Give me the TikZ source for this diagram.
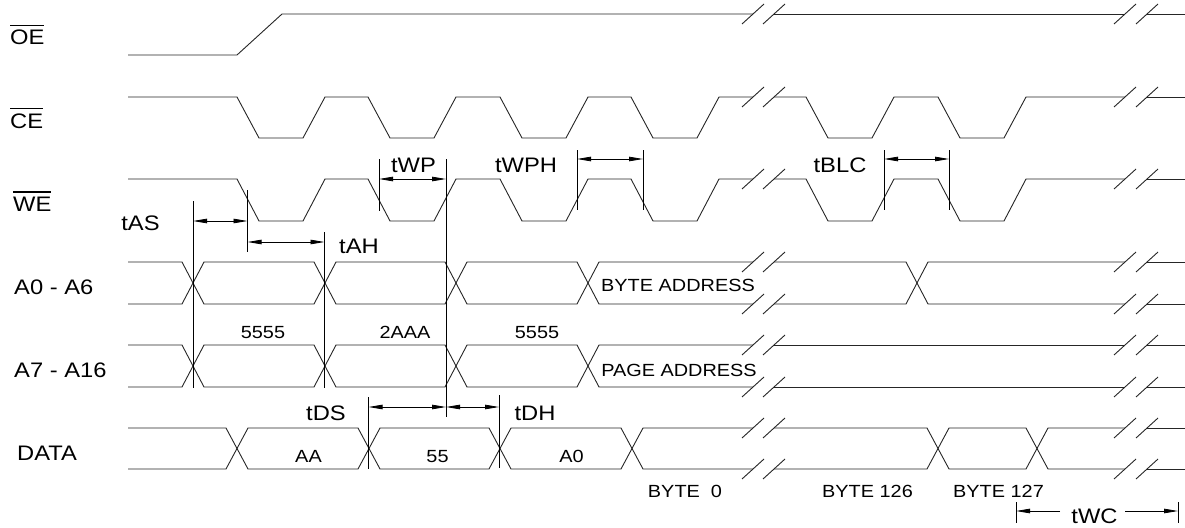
\documentclass[tikz,border=0pt]{standalone}
\usepackage{fontspec}
\setmainfont{Liberation Sans}[FakeStretch=1.13]
\usetikzlibrary{arrows.meta}
\newcommand\biglab{\fontsize{21}{24}\selectfont}
\newcommand\smlab{\fontsize{17.6}{20}\selectfont}
\newcommand\ovl[1]{\vbox{\hrule height 1.2pt\kern 4pt\hbox{#1}}}
% pulse train for CE and WE (#1 high y, #2 low y)
\newcommand\pulses[2]{%
\draw[sig] (128,#1) -- (237,#1) -- (259,#2) -- (303,#2) -- (325,#1) -- (368,#1) -- (390,#2) -- (434,#2) -- (456,#1) -- (500,#1) -- (522,#2) -- (566,#2) -- (588,#1) -- (631,#1) -- (653,#2) -- (697,#2) -- (719,#1) -- (753,#1);
\draw[sig] (774,#1) -- (806,#1) -- (828,#2) -- (872,#2) -- (894,#1) -- (938,#1) -- (960,#2) -- (1004,#2) -- (1026,#1) -- (1125,#1);
\draw[sig] (1147,#1) -- (1185,#1);}
% address bus before the first break (#1 top y, #2 bottom y)
\newcommand\addrbus[2]{%
\draw[sig] (128,#1) -- (182,#1) -- (204,#2) -- (314,#2) -- (336,#1) -- (445,#1) -- (467,#2) -- (577,#2) -- (599,#1) -- (753,#1);
\draw[sig] (128,#2) -- (182,#2) -- (204,#1) -- (314,#1) -- (336,#2) -- (445,#2) -- (467,#1) -- (577,#1) -- (599,#2) -- (753,#2);}
% break marks on a line at y=#1
\newcommand\brk[1]{\foreach \xx in {753,774,1125,1147}{\draw[sig] (\xx-11,#1+10) -- (\xx+11,#1-10);}}
\begin{document}
\begin{tikzpicture}[x=1pt,y=-1pt,
  sig/.style={line width=0.9pt,black!85,line join=miter},
  dimline/.style={line width=0.8pt,black},
  tip/.tip={Triangle[length=14pt,width=4.5pt]},
  dimarr/.style={line width=0.8pt,black,tip-tip},
  siglab/.style={font=\biglab,inner sep=0pt,anchor=base west},
  tlab/.style={font=\biglab,inner sep=0pt,anchor=base},
  vlab/.style={font=\smlab,inner sep=0pt,anchor=base}]
\useasboundingbox (0,0) rectangle (1185,527);

% ---- signal names
\node[siglab] (nOE) at (10,45) {\ovl{OE}};
\node[siglab] (nCE) at (10,128) {\ovl{CE}};
\node[siglab] (nWE) at (13,211) {\ovl{WE}};
\node[siglab] (nA0) at (14,294) {A0 - A6};
\node[siglab] (nA7) at (14,377) {A7 - A16};
\node[siglab] (nDATA) at (17,460) {DATA};

% ---- OE
\draw[sig] (128,55) -- (237,55) -- (282,14) -- (753,14);
\draw[sig] (774,14) -- (1125,14);
\draw[sig] (1147,14) -- (1185,14);
\brk{14}

% ---- CE and WE
\pulses{97}{138}
\brk{97}
\pulses{179}{221}
\brk{179}

% ---- A0 - A6
\addrbus{262}{304}
\draw[sig] (774,262) -- (906,262) -- (928,304) -- (1125,304);
\draw[sig] (774,304) -- (906,304) -- (928,262) -- (1125,262);
\draw[sig] (1147,262) -- (1185,262);
\draw[sig] (1147,304) -- (1185,304);
\brk{262}\brk{304}

% ---- A7 - A16
\addrbus{345}{387}
\draw[sig] (774,345) -- (1125,345);
\draw[sig] (774,387) -- (1125,387);
\draw[sig] (1147,345) -- (1185,345);
\draw[sig] (1147,387) -- (1185,387);
\brk{345}\brk{387}

% ---- DATA
\draw[sig] (128,428) -- (226,428) -- (248,469) -- (358,469) -- (380,428) -- (489,428) -- (511,469) -- (621,469) -- (643,428) -- (753,428);
\draw[sig] (128,469) -- (226,469) -- (248,428) -- (358,428) -- (380,469) -- (489,469) -- (511,428) -- (621,428) -- (643,469) -- (753,469);
\draw[sig] (774,428) -- (927,428) -- (949,469) -- (1026,469) -- (1048,428) -- (1125,428);
\draw[sig] (774,469) -- (927,469) -- (949,428) -- (1026,428) -- (1048,469) -- (1125,469);
\draw[sig] (1147,428) -- (1185,428);
\draw[sig] (1147,469) -- (1185,469);
\brk{428}\brk{469}

% ---- bus values
\node[vlab] (v1) at (263,338) {5555};
\node[vlab] (v2) at (405,338) {2AAA};
\node[vlab] (v3) at (537,338) {5555};
\node[vlab] (vba) at (678,291) {BYTE ADDRESS};
\node[vlab] (vpa) at (679,376) {PAGE ADDRESS};
\node[vlab] (d1) at (308.5,462) {AA};
\node[vlab] (d2) at (437.5,462) {55};
\node[vlab] (d3) at (571.5,462) {A0};
\node[vlab] (b0) at (685,497) {BYTE\ \ 0};
\node[vlab] (b126) at (867.5,497) {BYTE 126};
\node[vlab] (b127) at (998.5,497) {BYTE 127};

% ---- reference lines
\draw[dimline] (193,201) -- (193,388);
\draw[dimline] (247.5,190) -- (247.5,252);
\draw[dimline] (324.5,232) -- (324.5,388);
\draw[dimline] (379,159) -- (379,211);
\draw[dimline] (446,159) -- (446,417);
\draw[dimline] (577,150) -- (577,210);
\draw[dimline] (643,150) -- (643,210);
\draw[dimline] (884,150) -- (884,210);
\draw[dimline] (949,150) -- (949,210);
\draw[dimline] (368.5,397) -- (368.5,469);
\draw[dimline] (499,395) -- (499,468);
\draw[dimline] (1016,502) -- (1016,523);
\draw[dimline] (1178,502) -- (1178,523);

% ---- timing arrows
\coordinate (asL) at (193,221);   \coordinate (asR) at (247.5,221);
\coordinate (ahL) at (247.5,242); \coordinate (ahR) at (324.5,242);
\coordinate (wpL) at (379,179);   \coordinate (wpR) at (446,179);
\coordinate (whL) at (577,159);   \coordinate (whR) at (643,159);
\coordinate (blL) at (884,159);   \coordinate (blR) at (949,159);
\coordinate (dsL) at (368.5,407); \coordinate (dsR) at (446,407);
\coordinate (dhR) at (499,407);
\coordinate (wcL) at (1016,511);  \coordinate (wcR) at (1178,511);
\coordinate (wcA) at (1060,511);  \coordinate (wcB) at (1125,511);
\draw[dimarr] (asL) -- (asR);
\draw[dimarr] (ahL) -- (ahR);
\draw[dimarr] (wpL) -- (wpR);
\draw[dimarr] (whL) -- (whR);
\draw[dimarr] (blL) -- (blR);
\draw[dimarr] (dsL) -- (dsR);
\draw[dimarr] (dsR) -- (dhR);
\draw[line width=0.8pt,-tip] (wcA) -- (wcL);
\draw[line width=0.8pt,-tip] (wcB) -- (wcR);

% ---- timing labels
\node[tlab] (tAS) at (140.5,230) {tAS};
\node[tlab] (tAH) at (359,253) {tAH};
\node[tlab] (tWP) at (413.5,172) {tWP};
\node[tlab] (tWPH) at (526,172) {tWPH};
\node[tlab] (tBLC) at (840,172) {tBLC};
\node[tlab] (tDS) at (326,420) {tDS};
\node[tlab] (tDH) at (535,420) {tDH};
\node[tlab] (tWC) at (1094.5,523) {tWC};
\end{tikzpicture}
\end{document}
